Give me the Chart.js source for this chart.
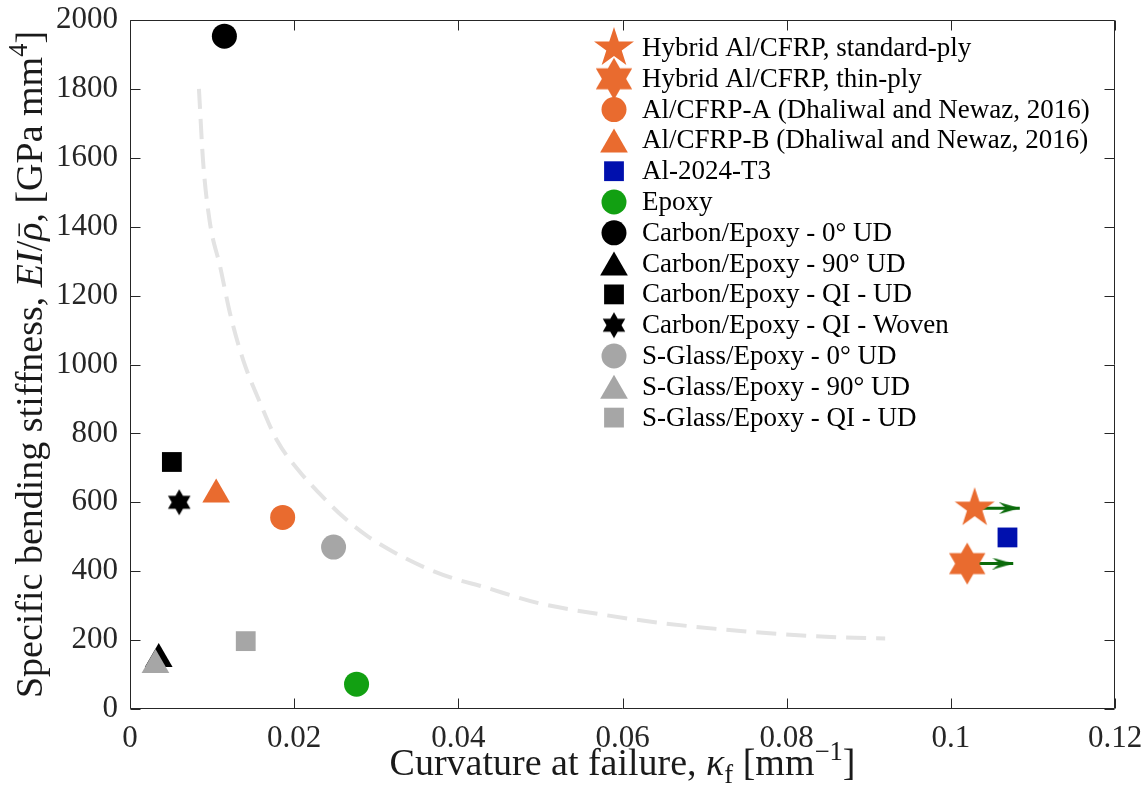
<!DOCTYPE html>
<html lang="en">
<head>
  <meta charset="UTF-8">
  <title>Specific bending stiffness vs curvature at failure</title>
  <script src="https://cdn.jsdelivr.net/npm/chart.js"></script>
  <style>
    html, body { margin: 0; padding: 0; background: #fff; }
    .wrap { width: 1146px; height: 795px; }
  </style>
</head>
<body>
<div class="wrap"><canvas id="stiffnessChart"></canvas></div>
<script>
  // ---- data ----
  const seriesLabels = [
    'Hybrid Al/CFRP, standard-ply',
    'Hybrid Al/CFRP, thin-ply',
    'Al/CFRP-A (Dhaliwal and Newaz, 2016)',
    'Al/CFRP-B (Dhaliwal and Newaz, 2016)',
    'Al-2024-T3',
    'Epoxy',
    'Carbon/Epoxy - 0° UD',
    'Carbon/Epoxy - 90° UD',
    'Carbon/Epoxy - QI - UD',
    'Carbon/Epoxy - QI - Woven',
    'S-Glass/Epoxy - 0° UD',
    'S-Glass/Epoxy - 90° UD',
    'S-Glass/Epoxy - QI - UD'
  ];
  // curvature at failure [1/mm]
  const curvature = [0.1029, 0.1020, 0.0186, 0.0105, 0.1069, 0.0276, 0.0115, 0.0035, 0.0051, 0.0060, 0.0248, 0.0031, 0.0141];
  // specific bending stiffness [GPa mm^4]
  const stiffness = [583, 422, 556, 623, 498, 72, 1953, 145, 717, 600, 470, 128, 197];

  // arrows on the hybrid points (no failure reached -> curvature is a lower bound)
  const arrowStartX = [0.1029, 0.1020];
  const arrowEndX = [0.1084, 0.1076];
  const arrowY = [583, 422];

  // light grey dashed trend curve
  const trendX = [0.0084, 0.0089, 0.0097, 0.0110, 0.0122, 0.0138, 0.0159, 0.0179, 0.0207, 0.0231, 0.0260, 0.0288, 0.0321, 0.0358, 0.0394, 0.0427, 0.0500, 0.0573, 0.0646, 0.0756, 0.0865, 0.0920];
  const trendY = [1800, 1591, 1417, 1282, 1147, 1012, 886, 780, 688, 625, 557, 504, 456, 412, 379, 357, 306, 275, 250, 224, 208, 205];

  const xTicks = [0, 0.02, 0.04, 0.06, 0.08, 0.1, 0.12];
  const xTickLabels = ['0', '0.02', '0.04', '0.06', '0.08', '0.1', '0.12'];
  const yTicks = [0, 200, 400, 600, 800, 1000, 1200, 1400, 1600, 1800, 2000];
  const yTickLabels = ['0', '200', '400', '600', '800', '1000', '1200', '1400', '1600', '1800', '2000'];

  // ---- marker shapes ----
  const ORANGE = '#E96B2F', BLUE = '#0010AE', GREEN = '#12A012', GREY = '#A6A6A6', BLACK = '#000000';

  function starMarker(points, outer, inner, color) {
    const size = Math.ceil(outer * 2 + 2);
    const c = document.createElement('canvas');
    c.width = size; c.height = size;
    const g = c.getContext('2d');
    g.translate(size / 2, size / 2);
    g.beginPath();
    for (let i = 0; i < points * 2; i++) {
      const r = i % 2 ? inner : outer;
      const a = -Math.PI / 2 + i * Math.PI / points;
      g.lineTo(r * Math.cos(a), r * Math.sin(a));
    }
    g.closePath();
    g.fillStyle = color;
    g.fill();
    return c;
  }

  // arrow head with its tip in the middle of the canvas
  function arrowHead(len, half, color) {
    const c = document.createElement('canvas');
    c.width = len * 2; c.height = half * 2;
    const g = c.getContext('2d');
    g.fillStyle = color;
    g.beginPath();
    g.moveTo(len, half);
    g.lineTo(0, 0);
    g.lineTo(len * 0.35, half);
    g.lineTo(0, half * 2);
    g.closePath();
    g.fill();
    return c;
  }

  const markers = [
    { style: starMarker(5, 21, 8.1, ORANGE), radius: 20, color: ORANGE },
    { style: starMarker(6, 21, 12.1, ORANGE), radius: 20, color: ORANGE },
    { style: 'circle', radius: 12.5, color: ORANGE },
    { style: 'triangle', radius: 16, color: ORANGE },
    { style: 'rect', radius: 14, color: BLUE },
    { style: 'circle', radius: 12.5, color: GREEN },
    { style: 'circle', radius: 12.5, color: BLACK },
    { style: 'triangle', radius: 16, color: BLACK },
    { style: 'rect', radius: 14, color: BLACK },
    { style: starMarker(6, 13, 7.5, BLACK), radius: 12, color: BLACK },
    { style: 'circle', radius: 12.5, color: GREY },
    { style: 'triangle', radius: 16, color: GREY },
    { style: 'rect', radius: 14, color: GREY }
  ];

  const ARROW_GREEN = '#0B6B0B';
  const arrowTip = arrowHead(21, 6, ARROW_GREEN);

  const datasets = [];
  seriesLabels.forEach((label, i) => {
    datasets.push({
      label: label,
      data: [{ x: curvature[i], y: stiffness[i] }],
      pointStyle: markers[i].style,
      pointRadius: markers[i].radius,
      pointHoverRadius: markers[i].radius,
      backgroundColor: markers[i].color,
      borderColor: markers[i].color,
      borderWidth: 0,
      order: -i,
      inLegend: true
    });
  });
  arrowY.forEach((y, i) => {
    datasets.push({
      label: 'arrow',
      data: [{ x: arrowStartX[i], y: y }, { x: arrowEndX[i], y: y }],
      showLine: true,
      borderColor: ARROW_GREEN,
      borderWidth: 3,
      pointStyle: arrowTip,
      pointRadius: [0, 5],
      order: 5
    });
  });
  datasets.push({
    label: 'trend',
    data: trendX.map((x, i) => ({ x: x, y: trendY[i] })),
    showLine: true,
    borderColor: '#E3E3E3',
    borderWidth: 4,
    borderDash: [20, 10],
    pointRadius: 0,
    cubicInterpolationMode: 'monotone',
    order: 10
  });

  // ---- helpers for drawing ----
  const SERIF = "'Liberation Serif', 'Times New Roman', serif";
  const AXIS_COLOR = '#262626';

  function segFont(s, size) {
    const sz = (s.sup || s.sub) ? size * 0.7 : size;
    return (s.it ? 'italic ' : '') + sz + 'px ' + SERIF;
  }

  function drawRich(ctx, segs, cx, baseline, size) {
    let total = 0;
    segs.forEach(s => { ctx.font = segFont(s, size); total += ctx.measureText(s.t).width; });
    let x = cx - total / 2;
    segs.forEach(s => {
      ctx.font = segFont(s, size);
      const w = ctx.measureText(s.t).width;
      const dy = s.sup ? -0.4 * size : s.sub ? 0.2 * size : 0;
      ctx.fillText(s.t, x, baseline + dy);
      if (s.bar) ctx.fillRect(x + 0.25 * w, baseline - 0.62 * size, 0.7 * w, Math.max(1.5, size * 0.04));
      x += w;
    });
  }

  function drawLegendMarker(ctx, d, x, y) {
    const st = d.pointStyle, r = d.pointRadius;
    ctx.fillStyle = d.backgroundColor;
    if (typeof st === 'object') {
      ctx.drawImage(st, x - st.width / 2, y - st.height / 2);
      return;
    }
    ctx.beginPath();
    if (st === 'circle') {
      ctx.arc(x, y, r, 0, Math.PI * 2);
    } else if (st === 'triangle') {
      const cy = y + r / 4;
      ctx.moveTo(x, cy - r);
      ctx.lineTo(x + 0.866 * r, cy + 0.5 * r);
      ctx.lineTo(x - 0.866 * r, cy + 0.5 * r);
      ctx.closePath();
    } else {
      const h = r * Math.SQRT1_2;
      ctx.rect(x - h, y - h, 2 * h, 2 * h);
    }
    ctx.fill();
  }

  // box round the plot with inward tick marks
  const framePlugin = {
    id: 'frame',
    beforeDatasetsDraw(chart) {
      const { ctx, chartArea: a, scales: { x, y } } = chart;
      const L = Math.round(a.left) + 0.5, R = Math.round(a.right) - 0.5;
      const T = Math.round(a.top) + 0.5, B = Math.round(a.bottom) - 0.5;
      ctx.save();
      ctx.strokeStyle = AXIS_COLOR;
      ctx.lineWidth = 1;
      ctx.beginPath();
      ctx.rect(L, T, R - L, B - T);
      xTicks.forEach(v => {
        const px = Math.round(x.getPixelForValue(v)) + 0.5;
        ctx.moveTo(px, B); ctx.lineTo(px, B - 10);
        ctx.moveTo(px, T); ctx.lineTo(px, T + 10);
      });
      yTicks.forEach(v => {
        const py = Math.round(y.getPixelForValue(v)) + 0.5;
        ctx.moveTo(L, py); ctx.lineTo(L + 10, py);
        ctx.moveTo(R, py); ctx.lineTo(R - 10, py);
      });
      ctx.stroke();
      ctx.restore();
    }
  };

  // legend inside the plot, top right
  const legendPlugin = {
    id: 'insideLegend',
    afterDatasetsDraw(chart) {
      const ctx = chart.ctx;
      ctx.save();
      ctx.font = '27px ' + SERIF;
      ctx.textBaseline = 'middle';
      chart.data.datasets.filter(d => d.inLegend).forEach((d, i) => {
        const y = 48 + i * 30.8;
        drawLegendMarker(ctx, d, 614, y);
        ctx.fillStyle = '#000';
        ctx.fillText(d.label, 642, y + 1);
      });
      ctx.restore();
    }
  };

  // axis titles with italic symbols, sub- and superscripts
  const titlePlugin = {
    id: 'axisTitles',
    afterDraw(chart) {
      const { ctx, chartArea: a } = chart;
      ctx.save();
      ctx.fillStyle = '#1a1a1a';
      ctx.textBaseline = 'alphabetic';
      drawRich(ctx, [
        { t: 'Curvature at failure, ' }, { t: 'κ', it: 1 }, { t: 'f', sub: 1 },
        { t: ' [mm' }, { t: '−1', sup: 1 }, { t: ']' }
      ], (a.left + a.right) / 2, 775, 38);
      ctx.translate(42, (a.top + a.bottom) / 2);
      ctx.rotate(-Math.PI / 2);
      drawRich(ctx, [
        { t: 'Specific bending stiffness, ' }, { t: 'EI', it: 1 }, { t: '/' },
        { t: 'ρ', it: 1, bar: 1 }, { t: ', [GPa mm' }, { t: '4', sup: 1 }, { t: ']' }
      ], 0, 0, 38);
      ctx.restore();
    }
  };

  Chart.defaults.font.family = SERIF;

  const ctx = document.getElementById('stiffnessChart').getContext('2d');
  const stiffnessChart = new Chart(ctx, {
    type: 'scatter',
    data: { datasets: datasets },
    options: {
      responsive: true,
      maintainAspectRatio: false,
      animation: false,
      layout: { padding: { top: 19, right: 31, left: 0, bottom: 0 } },
      plugins: {
        legend: { display: false },
        tooltip: { enabled: false }
      },
      scales: {
        x: {
          type: 'linear',
          min: 0,
          max: 0.12,
          afterBuildTicks: s => { s.ticks = xTicks.map(v => ({ value: v })); },
          afterFit: s => { s.height = 86; s.paddingLeft = 0; s.paddingRight = 0; },
          ticks: {
            callback: (v, i) => xTickLabels[i],
            font: { size: 31 },
            color: AXIS_COLOR,
            padding: 11,
            maxRotation: 0
          },
          grid: { display: false, drawTicks: false },
          border: { display: false }
        },
        y: {
          type: 'linear',
          min: 0,
          max: 2000,
          afterBuildTicks: s => { s.ticks = yTicks.map(v => ({ value: v })); },
          afterFit: s => { s.width = 130; s.paddingTop = 0; s.paddingBottom = 0; },
          ticks: {
            callback: (v, i) => yTickLabels[i],
            font: { size: 31 },
            color: AXIS_COLOR,
            padding: 12
          },
          grid: { display: false, drawTicks: false },
          border: { display: false }
        }
      }
    },
    plugins: [framePlugin, legendPlugin, titlePlugin]
  });
</script>
</body>
</html>
